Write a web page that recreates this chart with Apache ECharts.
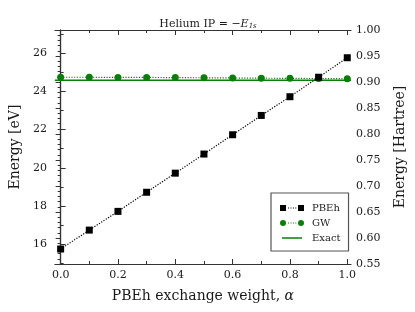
<!DOCTYPE html>
<html><head><meta charset="utf-8">
<script src="https://cdn.jsdelivr.net/npm/echarts@6/dist/echarts.min.js"></script>
<style>html,body{margin:0;padding:0;background:#fff}#c{width:415px;height:312px}</style>
</head><body><div id="c"></div>
<script>
const alpha = [0.0, 0.1, 0.2, 0.3, 0.4, 0.5, 0.6, 0.7, 0.8, 0.9, 1.0];
const pbeh = [15.75, 16.74, 17.72, 18.72, 19.72, 20.72, 21.73, 22.74, 23.72, 24.74, 25.76];
const gw = [24.74, 24.74, 24.73, 24.73, 24.72, 24.71, 24.70, 24.69, 24.68, 24.67, 24.66];
const exactIP = 24.587;
const xMajorVals = [0, 0.2, 0.4, 0.6, 0.8, 1.0];
const xMinorVals = [0.1, 0.3, 0.5, 0.7, 0.9];
const eVMajorVals = [16, 18, 20, 22, 24, 26];
const eVMinorVals = [15, 17, 19, 21, 23, 25, 27];

const HARTREE = 27.2114;
const xMin = -0.02, xMax = 1.013;
const hMin = 0.55, hMax = 1.00;
const F = 'DejaVu Serif';
const INK = '#1a1a1a';
const GREEN = '#0b7d0b';

const chart = echarts.init(document.getElementById('c'), null, {renderer: 'canvas'});
const axisLine = {show: true, lineStyle: {color: '#333', width: 1.2}};
const noLine = {show: false};
const tick = (vals, len) => ({show: true, inside: true, length: len, customValues: vals, lineStyle: {color: '#333', width: 1}});

const iconPBEh = 'path://M0,0h6v6h-6z M18,0h6v6h-6z M8,2.6h1v1h-1z M10.5,2.6h1v1h-1z M13,2.6h1v1h-1z M15.3,2.6h1v1h-1z';
const iconGW = 'path://M0,3a3,3 0 1,0 6,0a3,3 0 1,0 -6,0z M18,3a3,3 0 1,0 6,0a3,3 0 1,0 -6,0z M8,2.5h1v1h-1z M10.5,2.5h1v1h-1z M13,2.5h1v1h-1z M15.3,2.5h1v1h-1z';
const iconExact = 'path://M0,0h0.01v0.01h-0.01z M24,6h0.01v0.01h-0.01z M2,2.3h20v1.5h-20z';

chart.setOption({
  animation: false,
  textStyle: {fontFamily: F},
  title: {
    text: '{n|Helium IP = −}{e|E}{s|1s}',
    left: 203, top: 13, textAlign: 'center',
    textStyle: {fontWeight: 'normal', rich: {
      n: {fontFamily: F, fontSize: 11, color: INK, fontWeight: 'normal'},
      e: {fontFamily: F, fontSize: 11, fontStyle: 'italic', color: INK, fontWeight: 'normal'},
      s: {fontFamily: F, fontSize: 7, fontStyle: 'italic', color: INK, fontWeight: 'normal', verticalAlign: 'bottom', padding: [5, 0, 0, 0]}
    }}
  },
  grid: {left: 49, right: 59, top: 30, bottom: 48, containLabel: false},
  legend: {
    orient: 'vertical', left: 271, top: 193, width: 76, height: 71,
    padding: [10, 8, 8, 9], itemGap: 5, itemWidth: 24, itemHeight: 6,
    borderColor: '#555', borderWidth: 1.2, backgroundColor: '#fff',
    textStyle: {fontFamily: F, fontSize: 10, color: INK, padding: [0, 0, 0, 3]},
    data: [
      {name: 'PBEh', icon: iconPBEh},
      {name: 'GW', icon: iconGW},
      {name: 'Exact', icon: iconExact}
    ]
  },
  xAxis: [
    {type: 'value', min: xMin, max: xMax, position: 'bottom',
     name: '{t|PBEh exchange weight, }{a|α}', nameLocation: 'middle', nameGap: 25,
     nameTextStyle: {rich: {t: {fontFamily: F, fontSize: 14, color: INK}, a: {fontFamily: F, fontSize: 14, fontStyle: 'italic', color: INK}}},
     axisLine: axisLine, axisTick: tick(xMajorVals, 5),
     axisLabel: {customValues: xMajorVals, fontFamily: F, fontSize: 11, color: INK, margin: 6,
       formatter: v => v.toFixed(1)},
     splitLine: {show: false}},
    {type: 'value', min: xMin, max: xMax, position: 'bottom',
     axisLine: noLine, axisTick: tick(xMinorVals, 3),
     axisLabel: {show: false}, splitLine: {show: false}},
    {type: 'value', min: xMin, max: xMax, position: 'top',
     axisLine: axisLine, axisTick: tick(xMajorVals, 5),
     axisLabel: {show: false}, splitLine: {show: false}},
    {type: 'value', min: xMin, max: xMax, position: 'top',
     axisLine: noLine, axisTick: tick(xMinorVals, 3),
     axisLabel: {show: false}, splitLine: {show: false}}
  ],
  yAxis: [
    {type: 'value', min: hMin * HARTREE, max: hMax * HARTREE, position: 'left',
     name: 'Energy [eV]', nameLocation: 'middle', nameGap: 29,
     nameTextStyle: {fontFamily: F, fontSize: 14, color: INK},
     axisLine: axisLine, axisTick: tick(eVMajorVals, 5),
     axisLabel: {customValues: eVMajorVals, fontFamily: F, fontSize: 11, color: INK, margin: 8},
     splitLine: {show: false}},
    {type: 'value', min: hMin * HARTREE, max: hMax * HARTREE, position: 'left',
     axisLine: noLine, axisTick: tick(eVMinorVals, 3),
     axisLabel: {show: false}, splitLine: {show: false}},
    {type: 'value', min: hMin, max: hMax, interval: 0.05, position: 'right',
     name: 'Energy [Hartree]', nameLocation: 'middle', nameGap: 42, nameRotate: 90,
     nameTextStyle: {fontFamily: F, fontSize: 14, color: INK},
     axisLine: axisLine,
     axisTick: {show: true, inside: true, length: 5, lineStyle: {color: '#333'}},
     minorTick: {show: true, splitNumber: 5, length: 3, lineStyle: {color: '#333'}},
     axisLabel: {fontFamily: F, fontSize: 11, color: INK, margin: 5, formatter: v => v.toFixed(2)},
     splitLine: {show: false}}
  ],
  series: [
    {name: 'Exact', type: 'line', xAxisIndex: 0, yAxisIndex: 0,
     data: [[xMin, exactIP], [xMax, exactIP]], showSymbol: false, symbol: 'none',
     lineStyle: {color: GREEN, width: 1.5}, itemStyle: {color: GREEN}, z: 2},
    {name: 'GW', type: 'line', xAxisIndex: 0, yAxisIndex: 0,
     data: alpha.map((a, i) => [a, gw[i]]), symbol: 'circle', symbolSize: 7,
     lineStyle: {color: GREEN, width: 1.2, type: [1.2, 1.5]}, itemStyle: {color: GREEN}, z: 3},
    {name: 'PBEh', type: 'line', xAxisIndex: 0, yAxisIndex: 0,
     data: alpha.map((a, i) => [a, pbeh[i]]), symbol: 'rect', symbolSize: 7,
     lineStyle: {color: '#000', width: 1.2, type: [1.2, 1.5]}, itemStyle: {color: '#000'}, z: 4}
  ]
});
</script></body></html>
